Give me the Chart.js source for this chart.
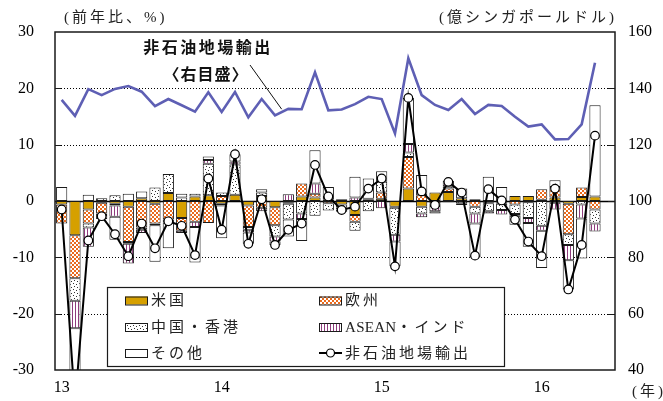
<!DOCTYPE html>
<html>
<head>
<meta charset="utf-8">
<script src="https://cdn.jsdelivr.net/npm/chart.js@4.4.1/dist/chart.umd.min.js"></script>
<style>
  html, body { margin: 0; padding: 0; background: #fff; overflow: hidden; }
  canvas { display: block; }
</style>
</head>
<body>
<canvas id="chart" width="663" height="401"></canvas>
<script>
// Singapore non-oil domestic exports: y/y growth split into destination contributions
// (left scale, %) and the monthly export level (right scale, 100 million SGD).
// Months run Jan 2013 .. Jun 2016; the last slot has no data yet.
const startYear = 2013;
const monthCount = 42;
const categories = [];
for (let k = 0; k < monthCount; k++) {
  const yr = startYear + Math.floor(k / 12);
  const mo = (k % 12) + 1;
  categories.push(yr + '/' + String(mo).padStart(2, '0'));
}
const yearTickLabels = { '2013/01': '13', '2014/01': '14', '2015/01': '15', '2016/01': '16' };

// contributions to y/y growth, percentage points
const usContribution = [-0.6, -6.1, -1.5, -0.3, -0.5, -1.0, 0.5, -0.5, 1.4, -3.0,
  0.8, 1.0, -0.5, 1.1, -0.8, 0.9, -1.1, -0.2, 0.8, 0.6,
  0.3, -0.6, -2.5, 0.2, 0.4, -1.0, 2.2, -1.0, 1.5, 1.6,
  0.5, 0.3, -0.2, -0.2, 0.9, 0.9, 0.2, 0.6, -0.5, 0.7,
  0.8];
const euContribution = [-3.4, -7.6, -2.5, -1.9, -0.3, -6.3, -4.7, -3.5, -3.3, -2.3,
  -3.7, -3.9, 0.9, 0.0, -3.8, -1.2, -3.2, -0.3, 2.3, 0.7,
  -0.4, 0.3, -1.2, 0.2, 1.1, -0.2, 5.6, 1.0, -0.4, 0.6,
  0.0, -1.0, -0.2, -0.3, -0.6, -0.2, 1.9, 1.9, -5.4, 1.7,
  -1.5];
const chinaHkContribution = [0.0, -4.0, -0.7, 0.5, 1.0, -0.3, -0.4, 2.4, 3.4, 0.6,
  0.5, 5.6, 0.6, 5.4, -0.5, 0.6, -2.0, -2.8, -2.2, -2.6,
  -1.3, -0.6, -1.6, -1.8, 1.9, -4.8, 0.8, -1.2, -0.5, 0.4,
  -0.4, -1.2, -1.4, -1.1, -1.7, -2.8, -4.4, -0.3, -1.9, -0.6,
  -2.5];
const aseanIndiaContribution = [0.0, -4.9, -3.4, -0.3, -2.0, -3.5, -0.6, -0.3, -0.5, -0.4,
  -0.9, 0.7, -0.3, 0.5, -0.5, -0.6, -0.9, 1.2, -1.0, 1.8,
  0.4, -0.3, 0.6, 0.0, -1.3, -1.2, 1.5, -0.7, -0.9, 1.0,
  -0.3, -1.8, -0.4, -0.8, -0.3, -0.9, -0.9, -1.2, -2.7, -2.5,
  -1.4];
const otherContribution = [2.5, -13.4, 1.1, -0.7, -4.1, 1.3, 1.2, -6.5, -4.6, 0.7,
  -6.3, 0.6, -5.8, 1.3, -2.0, 0.6, -0.6, -3.0, -3.9, 5.9,
  1.8, -0.4, 3.7, 3.6, 1.9, -4.4, 8.2, 3.6, -0.4, -0.2,
  1.7, -6.0, 4.3, 2.5, -1.6, -4.2, -6.6, 1.2, -5.2, -7.1,
  16.2];
// total y/y growth, %
const totalGrowth = [-1.5, -36.0, -7.0, -2.7, -5.9, -9.8, -4.0, -8.4, -3.6, -4.4,
  -9.6, 4.0, -5.1, 8.3, -7.6, 0.3, -7.8, -5.1, -4.0, 6.4,
  0.8, -1.6, -1.0, 2.2, 4.0, -11.6, 18.3, 1.7, -0.7, 3.4,
  1.5, -9.7, 2.1, 0.1, -3.3, -7.2, -9.8, 2.2, -15.7, -7.8,
  11.6];
// export level, 100 million SGD (right scale)
const exportLevel = [135.9, 130.2, 139.7, 137.6, 139.8, 140.8, 138.8, 133.7, 136.2, 134.0,
  131.7, 138.6, 131.6, 138.7, 129.7, 136.2, 130.4, 132.7, 132.6, 145.7,
  132.2, 132.5, 134.4, 137.0, 136.2, 124.0, 150.7, 137.6, 134.1, 132.3,
  136.2, 130.9, 134.1, 133.7, 129.9, 126.4, 127.2, 121.9, 122.0, 127.2,
  149.1];

const leftTicks = { min: -30, max: 30, step: 10 };
const rightTicks = { min: 40, max: 160, step: 20 };

// ---- fills ----
function makePattern(w, h, paint) {
  const c = document.createElement('canvas');
  c.width = w; c.height = h;
  const g = c.getContext('2d');
  g.fillStyle = '#fff';
  g.fillRect(0, 0, w, h);
  paint(g);
  return g.createPattern(c, 'repeat');
}
const usFill = '#D6A000';
const euFill = makePattern(4, 4, g => {
  g.fillStyle = '#EA6A1C';
  g.fillRect(0, 0, 2, 2);
  g.fillRect(2, 2, 2, 2);
});
const chinaFill = makePattern(6, 6, g => {
  g.fillStyle = '#333';
  g.fillRect(1, 1, 1, 1);
  g.fillRect(4, 2, 1, 1);
  g.fillRect(2, 4, 1, 1);
  g.fillRect(5, 5, 1, 1);
});
const aseanFill = makePattern(3, 3, g => {
  g.fillStyle = '#8E3C7C';
  g.fillRect(0, 0, 1, 3);
});
const otherFill = '#ffffff';

const serif = "'Liberation Serif', 'Times New Roman', serif";
const jp = "'Liberation Serif', 'Noto Sans CJK JP', sans-serif";

function barSet(label, data, fill) {
  return {
    type: 'bar', label, data, yAxisID: 'y', stack: 'contrib',
    backgroundColor: fill, borderColor: '#1a1a1a', borderWidth: 1,
    borderSkipped: false, categoryPercentage: 0.84, barPercentage: 1,
    order: 2, clip: 0
  };
}

function spaced(ctx, px) {
  if ('letterSpacing' in ctx) ctx.letterSpacing = px + 'px';
}

// grid, axis frame, inside tick marks
const framePlugin = {
  id: 'frame',
  beforeDatasetsDraw(chart) {
    const { ctx, chartArea: a, scales: { y } } = chart;
    ctx.save();
    ctx.strokeStyle = '#000';
    ctx.lineWidth = 1;
    ctx.setLineDash([1, 2]);
    for (let v = leftTicks.min + leftTicks.step; v < leftTicks.max; v += leftTicks.step) {
      if (v === 0) continue;
      const py = Math.round(y.getPixelForValue(v)) + 0.5;
      ctx.beginPath(); ctx.moveTo(a.left, py); ctx.lineTo(a.right, py); ctx.stroke();
    }
    ctx.setLineDash([]);
    const zy = Math.round(y.getPixelForValue(0)) + 0.5;
    ctx.lineWidth = 1.3;
    ctx.beginPath(); ctx.moveTo(a.left, zy); ctx.lineTo(a.right, zy); ctx.stroke();
    ctx.restore();
  },
  afterDatasetsDraw(chart) {
    const { ctx, chartArea: a, scales: { y } } = chart;
    ctx.save();
    ctx.strokeStyle = '#1a1a1a';
    ctx.lineWidth = 1.5;
    ctx.strokeRect(a.left, a.top, a.right - a.left, a.bottom - a.top);
    ctx.lineWidth = 1.2;
    for (let v = leftTicks.min + leftTicks.step; v < leftTicks.max; v += leftTicks.step) {
      const py = Math.round(y.getPixelForValue(v)) + 0.5;
      ctx.beginPath();
      ctx.moveTo(a.left, py); ctx.lineTo(a.left + 6, py);
      ctx.moveTo(a.right - 7, py); ctx.lineTo(a.right, py);
      ctx.stroke();
    }
    ctx.restore();
  },
  afterDraw(chart) {
    const { ctx, scales: { x, y1 } } = chart;
    ctx.save();
    ctx.fillStyle = '#222';
    ctx.textBaseline = 'middle';
    spaced(ctx, 3);
    ctx.font = '15px ' + jp;
    ctx.textAlign = 'left';
    ctx.fillText('(前年比、%)', 64, 18);
    ctx.textAlign = 'right';
    ctx.fillText('(億シンガポールドル)', 617, 18);
    ctx.textAlign = 'left';
    ctx.fillText('(年)', 632, 392);

    // series note with leader to the level line
    ctx.fillStyle = '#111';
    ctx.textAlign = 'center';
    ctx.font = 'bold 16px ' + jp;
    spaced(ctx, 2.5);
    ctx.fillText('非石油地場輸出', 208, 49);
    spaced(ctx, 1);
    ctx.fillText('〈右目盛〉', 206, 76);
    const ex = (x.getPixelForValue(16) + x.getPixelForValue(17)) / 2;
    const ey = y1.getPixelForValue(132.6);
    ctx.strokeStyle = '#111';
    ctx.lineWidth = 1;
    ctx.beginPath(); ctx.moveTo(250, 65); ctx.lineTo(ex, ey); ctx.stroke();

    // legend
    const box = { left: 107, top: 287, width: 397, height: 79 };
    ctx.fillStyle = '#fff';
    ctx.fillRect(box.left, box.top, box.width, box.height);
    ctx.strokeStyle = '#1a1a1a';
    ctx.lineWidth = 1.2;
    ctx.strokeRect(box.left + 0.5, box.top + 0.5, box.width, box.height);
    const cols = [125, 319];
    const rows = [300.5, 327, 353];
    const items = [
      { parts: [['米国', 3]], fill: usFill },
      { parts: [['欧州', 3]], fill: euFill },
      { parts: [['中国・香港', 3]], fill: chinaFill },
      { parts: [['ASEAN', 0.3], ['・インド', 3]], fill: aseanFill },
      { parts: [['その他', 3]], fill: otherFill },
      { parts: [['非石油地場輸出', 3]], line: true }
    ];
    ctx.font = '15px ' + jp;
    ctx.textAlign = 'left';
    items.forEach((it, k) => {
      const cx = cols[k % 2];
      const cy = rows[Math.floor(k / 2)];
      if (it.line) {
        ctx.strokeStyle = '#000';
        ctx.lineWidth = 2;
        ctx.beginPath(); ctx.moveTo(cx, cy); ctx.lineTo(cx + 23, cy); ctx.stroke();
        ctx.beginPath(); ctx.arc(cx + 11.5, cy, 4, 0, Math.PI * 2);
        ctx.fillStyle = '#fff'; ctx.fill();
        ctx.lineWidth = 1.2; ctx.stroke();
      } else {
        ctx.fillStyle = it.fill;
        ctx.fillRect(cx, cy - 4, 23, 8);
        ctx.strokeStyle = '#1a1a1a';
        ctx.lineWidth = 1;
        ctx.strokeRect(cx + 0.5, cy - 3.5, 22, 8);
      }
      ctx.fillStyle = '#222';
      let tx = cx + 26;
      it.parts.forEach(([txt, sp]) => {
        spaced(ctx, sp);
        ctx.fillText(txt, tx, cy + 1);
        tx += ctx.measureText(txt).width;
      });
    });
    ctx.restore();
  }
};

new Chart(document.getElementById('chart'), {
  data: {
    labels: categories,
    datasets: [
      barSet('米国', usContribution, usFill),
      barSet('欧州', euContribution, euFill),
      barSet('中国・香港', chinaHkContribution, chinaFill),
      barSet('ASEAN・インド', aseanIndiaContribution, aseanFill),
      barSet('その他', otherContribution, otherFill),
      {
        type: 'line', label: '非石油地場輸出', data: totalGrowth, yAxisID: 'y', stack: 'total',
        borderColor: '#000', borderWidth: 2, tension: 0,
        pointRadius: 4.3, pointBackgroundColor: '#fff', pointBorderColor: '#000', pointBorderWidth: 1.2,
        order: 0, clip: { left: 8, right: 8, top: 8, bottom: 0 }
      },
      {
        type: 'line', label: '非石油地場輸出〈右目盛〉', data: exportLevel, yAxisID: 'y1',
        borderColor: '#5E5FB4', borderWidth: 2.6, tension: 0, pointRadius: 0,
        order: 1
      }
    ]
  },
  options: {
    responsive: false,
    animation: false,
    layout: { padding: { top: 32, left: 0, right: 0, bottom: 0 } },
    plugins: { legend: { display: false }, tooltip: { enabled: false } },
    scales: {
      x: {
        stacked: true,
        offset: true,
        grid: { display: false, drawTicks: false },
        border: { display: false },
        ticks: {
          autoSkip: false, maxRotation: 0, padding: 8,
          color: '#000', font: { family: serif, size: 16 },
          callback: (v, i) => yearTickLabels[categories[i]] || ''
        },
        afterFit: s => { s.height = 31; }
      },
      y: {
        position: 'left', stacked: true,
        min: leftTicks.min, max: leftTicks.max,
        grid: { display: false, drawTicks: false },
        border: { display: false },
        ticks: { stepSize: leftTicks.step, padding: 21, color: '#000', font: { family: serif, size: 16 } },
        afterFit: s => { s.width = 55; }
      },
      y1: {
        position: 'right',
        min: rightTicks.min, max: rightTicks.max,
        grid: { display: false, drawTicks: false },
        border: { display: false },
        ticks: { stepSize: rightTicks.step, padding: 13, color: '#000', font: { family: serif, size: 16 } },
        afterFit: s => { s.width = 48; }
      }
    }
  },
  plugins: [framePlugin]
});
</script>
</body>
</html>
